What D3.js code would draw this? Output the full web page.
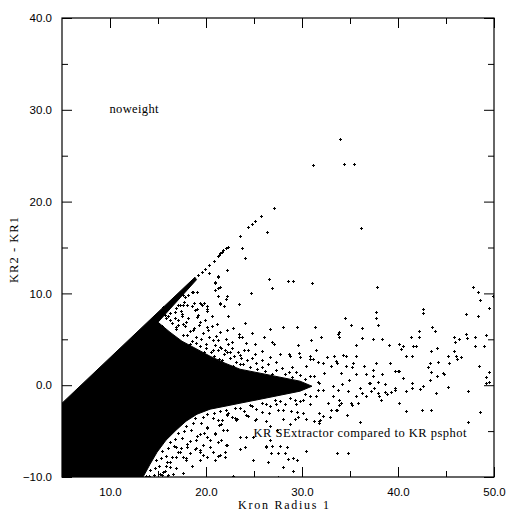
<!DOCTYPE html>
<html>
<head>
<meta charset="utf-8">
<script src="https://cdn.jsdelivr.net/npm/d3@7"></script>
<style>
  body { margin: 0; background: #fff; }
  .tick text { font-family: "Liberation Sans", "DejaVu Sans", sans-serif; font-size: 11.5px; fill: #000; }
  .tick line { stroke: #000; stroke-width: 1; }
  .lbl { font-family: "Liberation Serif", "DejaVu Serif", serif; font-size: 12.5px; fill: #000; }
</style>
</head>
<body>
<script>
// axis ticks
var xMajor = [10, 20, 30, 40, 50];
var xMinor = [15, 25, 35, 45];
var yMajor = [-10, 0, 10, 20, 30, 40];
var yMinor = [-5, 5, 15, 25, 35];

// outline of the solid black core (thousands of overlapping points)
var coreX = [5, 14.17, 18.85, 19.01, 15.0, 16.25, 17.5, 19.06, 20.42, 21.98, 23.54, 25.63, 27.71, 29.79, 31.04, 29.79, 27.71, 25.63, 23.54, 21.98, 20.42, 19.06, 17.92, 16.88, 15.83, 14.9, 14.17, 13.44, 5];
var coreY = [-1.96, 7.13, 11.76, 11.49, 6.86, 5.77, 4.79, 3.92, 3.16, 2.4, 1.74, 1.31, 0.87, 0.44, -0.11, -0.65, -1.09, -1.53, -1.96, -2.29, -2.61, -3.16, -3.92, -4.9, -5.99, -7.3, -8.61, -10, -10];

// separate points along the upper edge
var diagPts = [[19.2,12.0],[19.55,12.35],[19.9,12.7],[20.35,13.1],[20.8,13.5],[21.3,14.05],[21.4,14.2],[21.5,14.4],[21.65,14.55],[21.8,14.7],[22.1,14.9],[22.3,15.1],[23.5,16.3],[24.4,17.2],[24.8,17.6],[25.1,17.9],[25.76,18.48],[27.1,19.25]];

// speckled fringe just above the core
var upperBand = [[15.83,7.30],[16.46,6.75],[17.08,7.08],[17.81,6.43],[16.88,6.10],[18.33,5.88],[17.60,5.45],[18.96,5.23],[19.69,5.66],[18.54,4.79],[20.0,4.47],[20.73,4.90],[19.38,4.25],[21.25,3.81],[20.52,3.59],[21.88,3.38],[22.50,2.94],[21.67,2.72],[23.13,2.51],[23.85,2.29],[24.58,1.96],[22.81,2.07],[25.31,1.74],[26.15,1.53],[26.88,1.20],[24.27,2.72],[28.23,1.20],[28.96,0.87],[30.31,0.65],
  [16.25,7.84],[17.40,8.06],[18.13,7.30],[19.27,6.54],[20.21,5.99],[21.04,5.34],[22.29,4.47],[23.33,3.59],[24.79,2.94],[26.46,2.29],[27.92,1.85],[29.38,1.42],[30.83,0.98],[31.67,0.33],[15.42,6.43],[16.67,5.23],[18.23,4.36],[19.79,3.59],[21.35,2.83],[17.29,8.71],[18.85,8.17],
  [16.04,7.52],[16.77,7.30],[17.50,7.52],[17.92,6.86],[18.75,6.21],[19.48,5.01],[20.31,5.23],[20.94,4.36],[21.56,4.03],[22.19,3.59],[22.92,3.16],[23.65,2.94],[25.21,2.40],[25.83,1.96],[27.29,1.63],[28.65,1.42],[29.79,1.09],[17.08,6.54],[18.02,5.45],[18.96,4.58],[20.0,4.03],[20.83,3.16],[22.08,2.07],[23.54,2.29],[16.88,8.39],[17.71,9.04],[18.54,8.61],[19.17,7.63],[19.9,7.08],[20.63,6.43],[21.46,5.77],[22.08,5.01],[22.71,4.03],[23.96,3.81],[25.10,3.38],[25.83,2.72],[27.29,2.51],[28.96,1.96]];

// speckled fringe just below the core
var lowerBand = [[24.58,-2.18],[23.02,-2.51],[21.46,-2.83],[20.10,-3.16],[18.85,-3.59],[17.92,-4.47],[17.08,-5.23],[16.25,-6.21],[15.42,-7.19],[14.79,-8.17],[14.17,-9.26],[13.75,-9.91],[25.83,-1.96],[27.19,-1.63],[28.75,-1.42],[30.31,-0.98],[31.67,-0.54],
  [22.29,-3.05],[20.73,-3.59],[19.48,-4.14],[18.44,-4.90],[17.50,-5.77],[16.67,-6.64],[15.83,-7.73],[15.10,-8.82],[14.58,-9.80],[23.96,-2.83],[25.21,-2.61],[26.67,-2.29],[28.23,-2.07],[29.79,-1.74],[21.67,-3.81],[20.10,-4.68],[19.06,-5.56],[18.02,-6.43],[17.08,-7.30],[16.25,-8.39],[15.52,-9.48],[20.94,-5.23],[22.71,-3.49],[18.96,-6.86],
  [23.54,-2.51],[24.79,-2.29],[26.25,-2.07],[27.71,-1.74],[29.27,-1.63],[30.83,-1.20],[22.08,-2.72],[20.83,-3.05],[19.69,-3.49],[18.65,-4.14],[17.71,-5.01],[16.77,-5.88],[16.04,-6.86],[15.31,-7.95],[14.69,-9.04],[14.06,-9.91],[23.13,-3.81],[21.35,-4.36],[19.79,-5.23],[18.33,-6.10],[17.40,-6.86],[16.46,-7.84],[15.83,-8.82],[15.21,-9.69],[24.38,-3.38],[25.83,-2.94],[27.50,-2.72],[20.42,-5.99],[19.38,-7.30],[17.92,-7.95],[16.88,-9.04],[16.04,-9.80]];

// visible isolated points above the core
var upperPts = [[20.94,11.25],[21.28,10.64],[18.68,10.16],[19.03,10.16],[18.16,9.8],[21.28,9.69],[22.15,9.69],[19.38,8.9],[17.1,8.7],[18.0,8.7],[19.55,8.7],[21.46,8.82],[20.07,8.1],[20.6,7.5],[21.1,6.7],[19.03,7.44],[19.38,6.9],[22.15,6.0],[20.07,6.35],[21.28,4.9],[21.98,3.8],[20.76,3.8],[18.68,6.0],[16.77,8.0],[17.47,7.8],[17.64,6.7],[18.33,4.5],[16.9,6.35],[16.25,7.1],[15.73,7.6],[15.55,8.5],
  [17.64,9.8],[17.8,9.6],[18.5,10.1],[20.35,12.17],[21.2,11.8],[20.97,11.1],[20.97,10.4],[21.5,10.7],[22.2,12.5],[22.1,9.4],[21.5,8.8],[21.9,8.6],[23.4,8.8],[24.7,10.0],[18.8,9.0],[19.45,8.8],[19.8,9.0],[19.1,8.35],[20.07,8.3],[17.6,8.7],[23.8,15.0],[24.1,13.9],[26.4,16.7],[21.3,11.9],
  [22.3,7.5],[24.06,6.8],[22.8,6.25],[24.8,5.7],[23.4,5.3],[24.2,4.6],[21.46,8.97],[20.07,8.6],
  [23.4,5.55],[23.8,5.2],[26.0,5.3],[22.7,4.7],[25.1,4.5],[27.1,4.5],[24.4,3.8],[23.5,3.3],[25.8,3.7],[26.7,3.1],[27.7,3.45],[28.6,3.45],[22.5,3.6],[21.5,4.2],
  [26.6,11.6],[26.9,10.6],[26.7,6.1],[28.0,6.3],[26.9,4.7]];

// tail of the tongue, x > 28
var tonguePts = [[33.2,-0.1],[33.7,-0.5],[34.2,0.1],[34.9,0.6],[35.6,1.2],[36.0,-0.3],[36.3,-0.8],[35.6,-1.2],[35.1,-1.9],[33.9,-1.6],[33.2,-1.2],[32.7,-1.9],[32.15,-0.5],[31.5,-1.2],[31.8,0.25],[31.3,1.0],[32.3,1.34],[33.0,2.1],[33.5,2.6],[32.2,2.4],[31.1,2.8],[30.4,2.1],[30.8,-2.1],[30.1,-1.6],[29.4,-2.1],[28.85,-2.8],[28.0,-2.65],[27.3,-2.1],[26.6,-3.0],[34.06,1.34],[34.6,2.1],[35.3,2.4],[36.5,2.1],[35.6,3.2],[34.6,3.2],[33.3,3.2],[30.8,3.2],[29.7,3.5],[28.7,3.2],[37.4,1.0],[37.0,0.25],[37.5,-0.3],[37.9,-0.8],[36.7,-1.2],[34.8,-0.65],[34.06,-1.9],[33.5,-2.65],[31.8,-3.0],[31.3,-3.9],[30.1,-3.0],[30.4,-3.7],
  [29.6,4.4],[31.5,3.8],[32.0,5.2],[33.8,5.6],[35.6,4.4],[29.8,3.1],[30.8,2.9],[31.7,2.5],[32.6,3.1],[34.3,3.3],[35.2,2.0],[33.6,2.4]];

// sparse points below the core
var lowerPts = [[19.0,-6.0],[20.07,-5.6],[20.9,-5.3],[21.8,-4.9],[21.6,-4.2],[20.4,-6.7],[19.4,-7.1],[18.0,-6.7],[17.3,-7.3],[16.9,-7.8],[17.9,-8.2],[18.5,-8.8],[19.4,-8.2],[20.07,-7.8],[20.9,-8.2],[21.46,-7.6],[21.98,-7.3],[16.25,-8.9],[16.6,-9.7],[17.6,-9.6],[15.7,-9.3],[15.4,-9.8],[15.9,-10.0],[16.9,-6.7],[18.85,-6.9],[19.7,-6.5],[20.76,-7.3],[21.98,-7.8],[22.1,-6.5],[21.3,-6.2],[19.7,-7.6],[17.6,-7.8],[18.33,-7.4],[15.9,-8.4],[20.07,-4.5],[21.3,-3.8],[22.15,-3.3],[19.4,-5.3],
  [22.8,-9.9],[23.5,-6.9],[21.3,-7.7],[24.9,-8.1],[22.2,-6.5],[24.2,-5.6],[23.2,-3.7],
  [22.2,-3.1],[23.0,-3.6],[24.2,-3.3],[25.1,-3.8],[25.8,-2.9],[26.7,-4.4],[27.4,-4.9],[28.75,-4.2],[29.6,-3.45],[31.9,-3.8],[32.9,-3.45],[33.6,-2.7],[34.7,-3.3],[23.5,-5.6],[22.2,-4.9],[21.6,-6.0],[24.1,-6.7],[26.3,-6.7],[26.7,-6.0],[28.4,-6.7],[24.9,-5.6],
  [25.2,-3.7],[26.25,-3.9],[28.0,-3.7],[29.5,-2.9],[29.3,-3.7],[31.8,-3.85],[31.8,-4.1],[32.2,-3.4],[33.05,-2.7],[33.9,-2.2],[35.2,-2.15],[35.8,-1.9],[36.0,-4.0],[26.25,-6.65],[26.9,-6.6],[27.7,-6.6],[26.8,-7.4],[27.5,-7.4],[28.2,-7.4],[28.5,-8.0],[29.1,-7.95],[29.45,-8.2],[30.4,-7.2],[33.6,-7.4],[34.8,-7.4],[26.5,-8.4],[28.05,-8.9],[29.1,-9.4],[27.5,-10.0]];

// isolated points far from the core
var farPts = [[33.99,26.87],[31.18,24.04],[34.41,24.15],[35.45,24.15],[36.18,17.07],[28.5,11.4],[29.1,11.3],[31.0,11.1],[37.8,10.75],[47.8,10.7],[48.3,10.2],[48.5,9.3],[49.5,8.4],[49.9,9.7],[47.1,7.8],[48.3,7.5],[49.2,5.45],[49.0,4.25],[49.5,1.45],[49.2,0.25],[49.5,0.36],[48.5,-2.9],[47.3,-4.0],[47.3,-0.65],
  [37.7,7.95],[37.7,7.3],[42.6,8.25],[42.6,7.9],[34.45,7.3],[35.1,6.6],[36.25,6.25],[37.9,6.6],[42.2,5.9],[42.2,5.3],[43.5,6.3],[43.85,5.95],[29.45,6.3],[31.4,6.3],[33.9,5.8],[33.9,5.3],[32.0,5.2],[30.9,4.9],[36.3,5.15],[37.4,5.0],[38.3,5.0],[39.1,4.4],[40.1,4.5],[40.5,4.25],[41.35,5.2],[41.6,4.25],[41.9,4.3],[40.3,3.9],[40.8,3.2],[41.5,3.2],[43.4,3.7],[44.1,4.1],[43.3,2.4],[43.1,2.0],[44.2,2.5],[44.65,1.34],[45.2,3.2],[45.8,5.3],[45.9,4.7],[46.4,5.0],[45.8,3.7],[46.0,3.2],[46.6,3.1],[47.1,5.6],[47.2,5.1],[48.0,5.3],[48.0,4.25],[46.1,2.8],[45.3,2.4],[44.8,1.2],[45.2,-0.2],[44.1,1.0],[43.4,1.4],[43.3,0.6],[42.6,-0.1],[42.3,-0.4],[41.5,0.25],[41.5,-0.3],[40.8,-0.65],[44.0,-0.85],[43.4,-2.75],[42.5,-2.75],[40.8,-2.8],[40.1,-1.9],[48.4,2.1],[49.2,0.9],[40.1,1.5],[39.95,1.5],[39.7,1.5],[40.5,0.8],[39.7,-0.3],[39.7,-0.55],[39.3,-0.76],[38.9,-1.0],[38.6,-0.73],[38.0,-1.2],[38.2,-1.56],[37.2,-0.65],[37.1,0.25],[37.9,0.33],[38.6,0.08],[38.3,1.17],[37.4,1.7],[36.7,1.17],[37.7,2.4],[39.2,2.4]];

var margin = {top: 18, right: 18, bottom: 35, left: 62},
  width = 512 - margin.left - margin.right,
  height = 512 - margin.top - margin.bottom;

var svg = d3.select("body").append("svg")
  .attr("width", 512)
  .attr("height", 512)
  .style("background", "#fff")
  .append("g")
  .attr("transform", "translate(" + margin.left + "," + margin.top + ")");

var x = d3.scaleLinear().domain([5, 50]).range([0, width]);
var y = d3.scaleLinear().domain([-10, 40]).range([height, 0]);

svg.append("clipPath").attr("id", "clip")
  .append("rect").attr("width", width).attr("height", height);

var plot = svg.append("g").attr("clip-path", "url(#clip)");

// solid core
var core = d3.zip(coreX, coreY);
plot.append("path")
  .attr("d", d3.line().x(function(d){ return x(d[0]); }).y(function(d){ return y(d[1]); })(core) + "Z")
  .attr("fill", "#000")
  .attr("stroke", "#000")
  .attr("stroke-width", 1);

// plus markers
var cross = "M-1.5,0H1.5M0,-1.5V1.5";
var allPts = diagPts.concat(upperBand, lowerBand, upperPts, tonguePts, lowerPts, farPts);
plot.selectAll("path.pt")
  .data(allPts)
  .enter().append("path")
  .attr("class", "pt")
  .attr("transform", function(d){ return "translate(" + (Math.round(x(d[0])) + 0.5) + "," + (Math.round(y(d[1])) + 0.5) + ")"; })
  .attr("d", cross)
  .attr("stroke", "#000")
  .attr("stroke-width", 1)
  .attr("shape-rendering", "crispEdges");

// axes, ticks pointing inward on all four sides
var fmt = d3.format(".1f");
svg.append("g")
  .attr("transform", "translate(0," + height + ")")
  .call(d3.axisBottom(x).tickValues(xMajor).tickSize(-10).tickPadding(11).tickFormat(fmt));
svg.append("g")
  .attr("transform", "translate(0," + height + ")")
  .call(d3.axisBottom(x).tickValues(xMinor).tickSize(-6).tickFormat(""));
svg.append("g")
  .call(d3.axisTop(x).tickValues(xMajor).tickSize(-10).tickFormat(""));
svg.append("g")
  .call(d3.axisTop(x).tickValues(xMinor).tickSize(-6).tickFormat(""));
svg.append("g")
  .call(d3.axisLeft(y).tickValues(yMajor).tickSize(-10).tickPadding(10).tickFormat(fmt));
svg.append("g")
  .call(d3.axisLeft(y).tickValues(yMinor).tickSize(-6).tickFormat(""));
svg.append("g")
  .attr("transform", "translate(" + width + ",0)")
  .call(d3.axisRight(y).tickValues(yMajor).tickSize(-10).tickFormat(""));
svg.append("g")
  .attr("transform", "translate(" + width + ",0)")
  .call(d3.axisRight(y).tickValues(yMinor).tickSize(-6).tickFormat(""));
svg.selectAll(".domain").remove();

svg.append("rect")
  .attr("x", 0).attr("y", 0)
  .attr("width", width).attr("height", height)
  .attr("fill", "none")
  .attr("stroke", "#000")
  .attr("stroke-width", 1.2);

// labels
svg.append("text").attr("class", "lbl")
  .attr("x", 238 - margin.left).attr("y", 509 - margin.top)
  .attr("textLength", 91).attr("lengthAdjust", "spacing")
  .style("font-size", "12px")
  .text("Kron Radius 1");
svg.append("text").attr("class", "lbl")
  .attr("transform", "translate(" + (18 - margin.left) + "," + (250 - margin.top) + ") rotate(-90)")
  .attr("text-anchor", "middle")
  .attr("textLength", 66).attr("lengthAdjust", "spacing")
  .text("KR2 - KR1");
svg.append("text").attr("class", "lbl")
  .attr("x", x(9.95)).attr("y", y(29.7))
  .attr("textLength", 49).attr("lengthAdjust", "spacing")
  .text("noweight");
svg.append("text").attr("class", "lbl")
  .attr("x", x(24.95)).attr("y", y(-5.6))
  .attr("textLength", 213).attr("lengthAdjust", "spacing")
  .text("KR SExtractor compared to KR psphot");
</script>
</body>
</html>
